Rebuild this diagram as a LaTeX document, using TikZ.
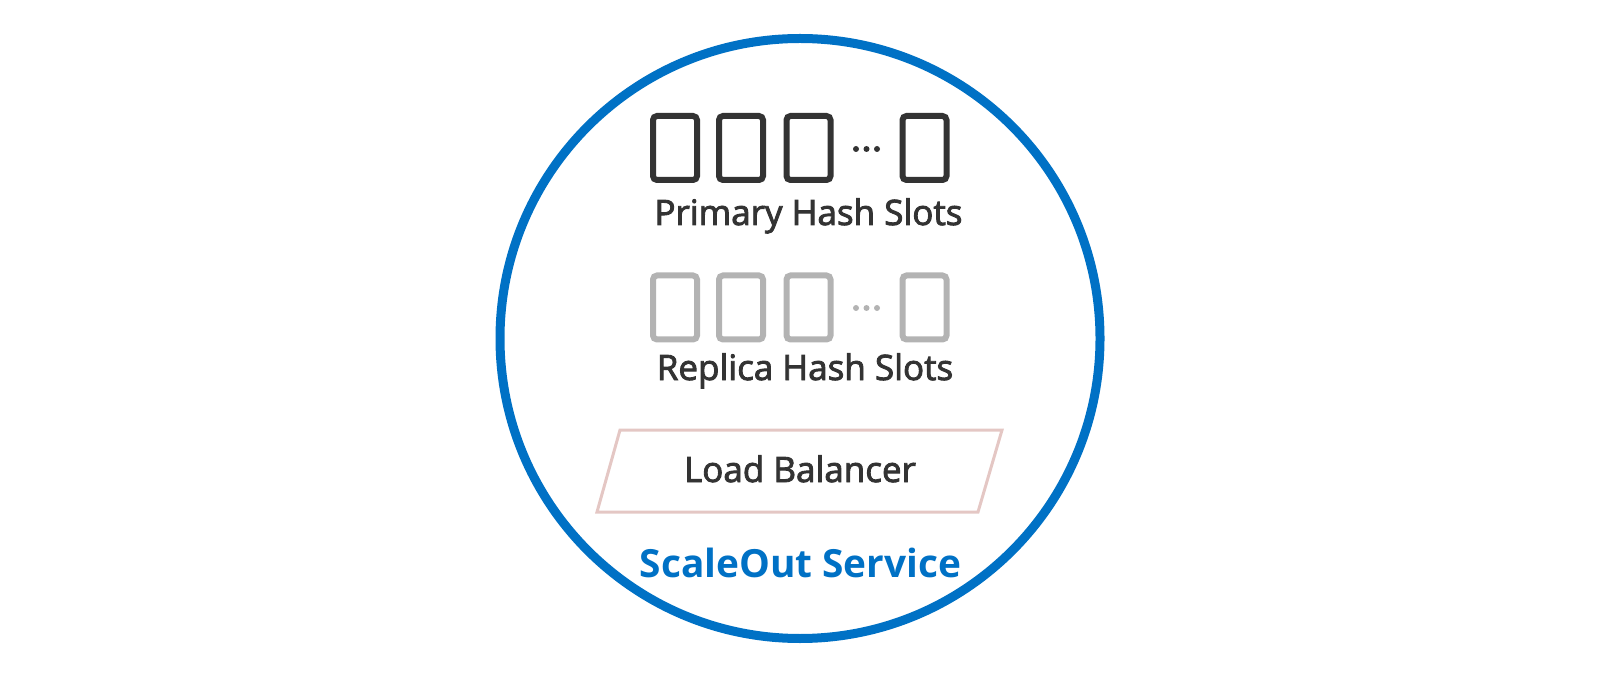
\documentclass[tikz,border=0pt]{standalone}
\usepackage{fontspec}
\setmainfont{Open Sans}
\newfontfamily\capfont{Open Sans}[FakeBold=2.5]
\usetikzlibrary{positioning}
\definecolor{soblue}{HTML}{0071C5}
\definecolor{slotdark}{HTML}{333333}
\definecolor{slotgray}{HTML}{B3B3B3}
\definecolor{lbpink}{HTML}{E4C7C4}
\begin{document}
\begin{tikzpicture}[x=0.5pt,y=-0.5pt,
  slot/.style={draw,rounded corners=2pt,line width=3pt,minimum width=22pt,minimum height=32pt,inner sep=0pt},
  caption/.style={text=slotdark,font=\capfont\fontsize{17.5}{20}\selectfont,inner sep=0pt,anchor=base}]
\useasboundingbox (0,0) rectangle (1600,678);

% The service circle
\node[draw=soblue,line width=4.5pt,circle,inner sep=0pt,minimum size=300pt] (service) at (800,338.5) {};

% Primary hash slots
\foreach \sx [count=\i] in {675,741,808.5,924.5}
{
	\node[slot,draw=slotdark] (p\i) at (\sx,148) {};
}
\foreach \dx in {856,866.5,877}
	\fill[slotdark] (\dx,149) circle[radius=3];
\node[caption] (primary) at (808.5,225) {Primary Hash Slots};

% Replica hash slots
\foreach \sx [count=\i] in {675,741,808.5,924.5}
{
	\node[slot,draw=slotgray] (r\i) at (\sx,307.5) {};
}
\foreach \dx in {856,866.5,877}
	\fill[slotgray] (\dx,308) circle[radius=3];
\node[caption] (replica) at (805,380) {Replica Hash Slots};

% Load balancer
\draw[lbpink,line width=1.5pt] (620,430) coordinate (lb1) -- (1002,430) coordinate (lb2)
	-- (978,512) coordinate (lb3) -- (597,512) coordinate (lb4) -- cycle;
\node[caption] (lb) at (800,482) {Load Balancer};

% Service name
\node[caption,text=soblue,font=\fontsize{19.4}{22}\selectfont\bfseries] (name) at (800.5,577) {ScaleOut Service};

\end{tikzpicture}
\end{document}
